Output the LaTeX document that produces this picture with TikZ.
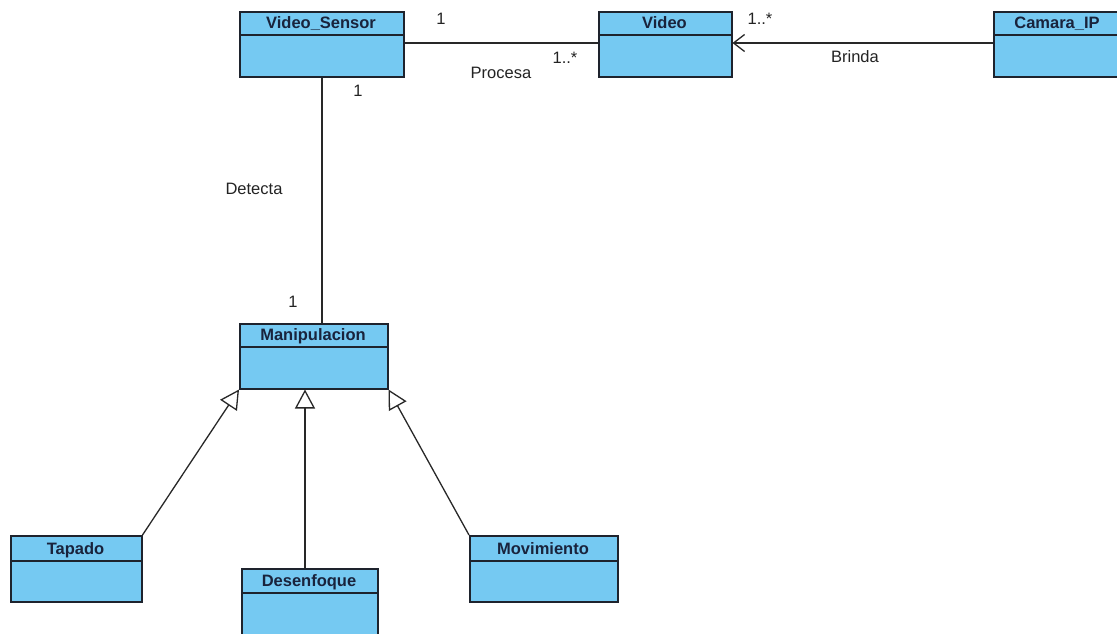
\documentclass[tikz,border=0pt]{standalone}
\usepackage{fontspec}
\setmainfont{Liberation Sans}
\usetikzlibrary{arrows.meta}
\definecolor{classfill}{RGB}{117,201,242}
\definecolor{classline}{RGB}{30,35,45}
\definecolor{titletext}{RGB}{25,35,60}
\definecolor{linkline}{RGB}{40,40,40}
\definecolor{labeltext}{RGB}{35,35,35}
\tikzset{
  classbox/.style={draw=classline, fill=classfill, line width=1.5pt, inner sep=0pt, rectangle},
  classtitle/.style={font=\bfseries\fontsize{16.5}{18}\selectfont, text=titletext, inner sep=0pt, anchor=base},
  assoc/.style={draw=linkline, line width=1.3pt},
  inherit/.style={draw=linkline, line width=1.3pt, -{Triangle[open, length=19pt, width=20pt, fill=white]}},
  navig/.style={draw=linkline, line width=1.3pt, -{Straight Barb[length=11pt, width=17pt]}},
  lbl/.style={font=\fontsize{16.5}{18}\selectfont, text=labeltext, inner sep=0pt},
}
% class box: name, left, top, right, divider, bottom, title
\newcommand\umlclass[7]{%
  \node[classbox, anchor=north west, minimum width={#4-#2}, minimum height={#6-#3}] (#1) at (#2,#3) {};
  \draw[draw=classline, line width=1.5pt] (#2,#5) -- (#4,#5);
  \node[classtitle] (#1-title) at ({(#2+#4)/2},{#5-6.5}) {#7};
}
\begin{document}
\begin{tikzpicture}[x=1pt,y=-1pt]
\useasboundingbox (0,0) rectangle (1117,633);
\clip (0,0) rectangle (1117,633);
\fill[white] (0,0) rectangle (1117,633);

\umlclass{vs}{239}{11}{403}{35}{76}{Video\_Sensor}
\umlclass{video}{598}{11}{731}{35}{76}{Video}
\umlclass{cam}{993}{11}{1121}{35}{76}{Camara\_IP}
\umlclass{manip}{239}{323}{387}{347}{388}{Manipulacion}
\umlclass{tapado}{10}{535}{141}{561}{601}{Tapado}
\umlclass{desenf}{241}{568}{377}{593}{645}{Desenfoque}
\umlclass{movim}{469}{535}{617}{561}{601}{Movimiento}

% associations
\draw[assoc] (vs.east |- 0,43) -- (video.west |- 0,43);
\draw[navig] (cam.west |- 0,43) -- (video.east |- 0,43);
\draw[assoc] (vs.south -| 322,0) -- (manip.north -| 322,0);

% generalizations
\draw[inherit] (tapado.north east) -- (manip.south west);
\draw[inherit] (desenf.north -| 305,0) -- (manip.south -| 305,0);
\draw[inherit] (movim.north west) -- (manip.south east);

% multiplicities and role names
\node[lbl] (m1) at (441,19) {1};
\node[lbl] (m2) at (565,58) {1..*};
\node[lbl] (procesa) at (501,73) {Procesa};
\node[lbl] (m3) at (358,91) {1};
\node[lbl] (detecta) at (254,189) {Detecta};
\node[lbl] (m4) at (293,302) {1};
\node[lbl] (m5) at (760,19) {1..*};
\node[lbl] (brinda) at (855,57) {Brinda};
\end{tikzpicture}
\end{document}
